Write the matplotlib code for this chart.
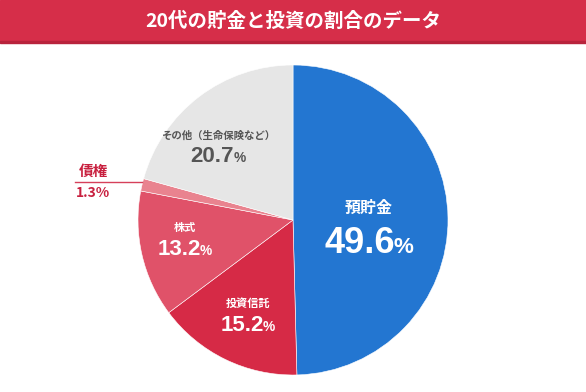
import matplotlib
matplotlib.use("Agg")
import matplotlib.pyplot as plt
from matplotlib.patches import Rectangle

plt.rcParams['font.family'] = ['Noto Sans CJK JP', 'DejaVu Sans']

# data
title = "20代の貯金と投資の割合のデータ"
categories = ["預貯金", "投資信託", "株式", "債権", "その他（生命保険など）"]
values = [49.6, 15.2, 13.2, 1.3, 20.7]
colors = ["#2376d1", "#d62a46", "#e05269", "#e9838f", "#e6e6e6"]

W, H = 586, 392
fig = plt.figure(figsize=(W / 100, H / 100), dpi=100)
fig.patch.set_facecolor("white")

# title bar
fig.patches.append(Rectangle((0, 1 - 41 / H), 1, 41 / H, transform=fig.transFigure,
                             color="#d62e49", zorder=0))
fig.patches.append(Rectangle((0, 1 - 43 / H), 1, 2 / H, transform=fig.transFigure,
                             color="#b8233c", zorder=0))
fig.text(0.5, 1 - 21 / H, title, ha="center", va="center", color="white",
         fontsize=14, fontweight="bold")

# pie
cx, cy, r = 293, 220, 155
ax = fig.add_axes([(cx - r) / W, (H - cy - r) / H, 2 * r / W, 2 * r / H])
ax.pie(values, colors=colors, startangle=90, counterclock=False, radius=1,
       wedgeprops=dict(edgecolor="white", linewidth=0.4))
ax.set_xlim(-1, 1)
ax.set_ylim(-1, 1)
ax.set_aspect("equal")
ax.axis("off")


def px(x, y):
    return x / W, 1 - y / H


def value_text(x, y, val, size, color):
    # number plus smaller percent sign, centred as a pair
    num = fig.text(*px(x, y), f"{val:.1f}", ha="left", va="baseline", color=color,
                   fontsize=size, fontweight="bold", family=["Liberation Sans"])
    pct = fig.text(*px(x, y), "%", ha="left", va="baseline", color=color,
                   fontsize=size * 0.62, fontweight="bold", family=["Liberation Sans"])
    fig.canvas.draw()
    rend = fig.canvas.get_renderer()
    wn = num.get_window_extent(rend).width
    wp = pct.get_window_extent(rend).width
    gap = -1
    x0 = x - (wn + wp + gap) / 2
    num.set_position(px(x0, y))
    pct.set_position(px(x0 + wn + gap, y))


label_pos = [(369, 208), (248, 303), (185, 228), (93, 171), (218, 136)]
value_pos = [(369, 253), (248, 331), (185, 255), (93, 197), (218, 162)]
label_size = [11.5, 8, 8, 10.5, 7.5]
value_size = [26, 16, 16, 10, 16]
text_colors = ["white", "white", "white", "#c8203f", "#555555"]

for i, cat in enumerate(categories):
    lx, ly = label_pos[i]
    fig.text(*px(lx, ly), cat, ha="center", va="center", color=text_colors[i],
             fontsize=label_size[i], fontweight="bold")
    vx, vy = value_pos[i]
    if i == 3:
        fig.text(*px(vx, vy), f"{values[i]:.1f}%", ha="center", va="baseline",
                 color=text_colors[i], fontsize=value_size[i], fontweight="bold")
    else:
        value_text(vx, vy, values[i], value_size[i], text_colors[i])

# leader line for 債権
fig.add_artist(plt.Line2D([75 / W, 142 / W], [1 - 182 / H, 1 - 182 / H],
                          transform=fig.transFigure, color="#d6405a", linewidth=1))

fig.savefig("out.png", dpi=100)
